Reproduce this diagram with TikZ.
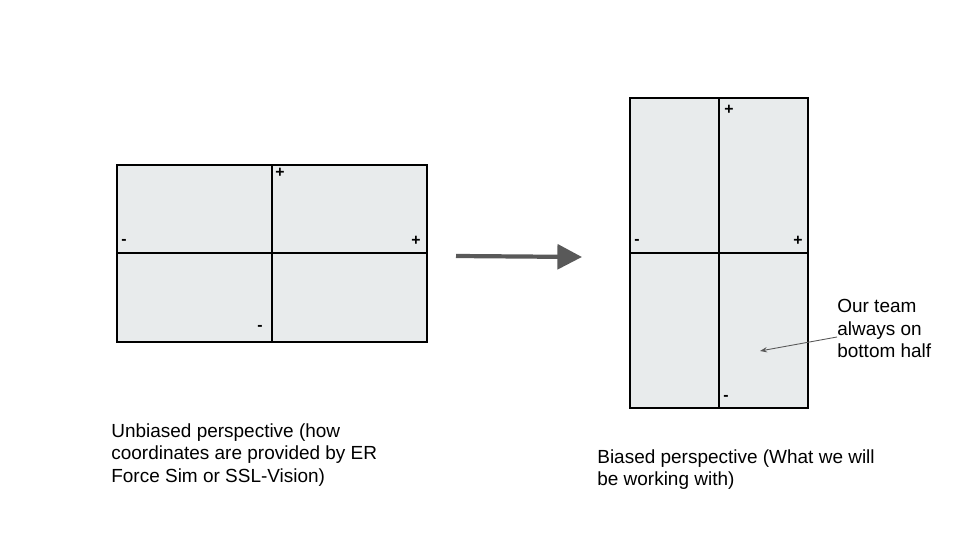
\documentclass[tikz,border=0pt]{standalone}
\usepackage{fontspec}
\setmainfont{Liberation Sans}
\usetikzlibrary{arrows.meta}
\usetikzlibrary{positioning}
\definecolor{fieldgray}{HTML}{E8EBEC}
\definecolor{arrowgray}{HTML}{595959}
\tikzset{
	field/.style={draw=black, fill=fieldgray, line width=0.6pt},
	axis/.style={draw=black, line width=0.6pt},
	sign/.style={inner sep=0pt, font=\fontsize{9}{9}\selectfont\bfseries},
	caption/.style={align=left, anchor=north west, inner sep=0pt,
		font=\fontsize{10.8}{12.8}\selectfont},
}

\begin{document}
\begin{tikzpicture}[x=0.02cm, y=-0.02cm]
	\useasboundingbox (0,0) rectangle (960,540);

	% unbiased field
	\draw[field] (117,165) rectangle (427,342);
	\draw[axis] (272,165) -- (272,342);
	\draw[axis] (117,253) -- (427,253);
	\node[sign] (u1) at (280,173) {+};
	\node[sign] (u2) at (124,242) {-};
	\node[sign] (u3) at (416,241) {+};
	\node[sign] (u4) at (260,328) {-};

	% biased field
	\draw[field] (630,98) rectangle (808,408);
	\draw[axis] (719,98) -- (719,408);
	\draw[axis] (630,253) -- (808,253);
	\node[sign] (b1) at (729,110) {+};
	\node[sign] (b2) at (637,242) {-};
	\node[sign] (b3) at (798,241) {+};
	\node[sign] (b4) at (726,398) {-};

	\coordinate (from) at (456,256);
	\coordinate (to) at (582,257);
	\draw[arrowgray, line width=2.4pt,
		-{Triangle[length=14pt, width=14pt]}] (from) -- (to);

	\node[caption] (unbiased) at (111,423) {Unbiased perspective (how\\
		coordinates are provided by ER\\Force Sim or SSL-Vision)};
	\node[caption] (biased) at (597,449) {Biased perspective (What we will\\
		be working with)};

	\node[caption] (team) at (837,299) {Our team\\always on\\bottom half};
	\coordinate (spot) at (760,351);
	\draw[arrowgray, line width=0.5pt, -{Stealth[length=4pt, width=3pt]}]
		(team.west |- 0,337) -- (spot);
\end{tikzpicture}
\end{document}
